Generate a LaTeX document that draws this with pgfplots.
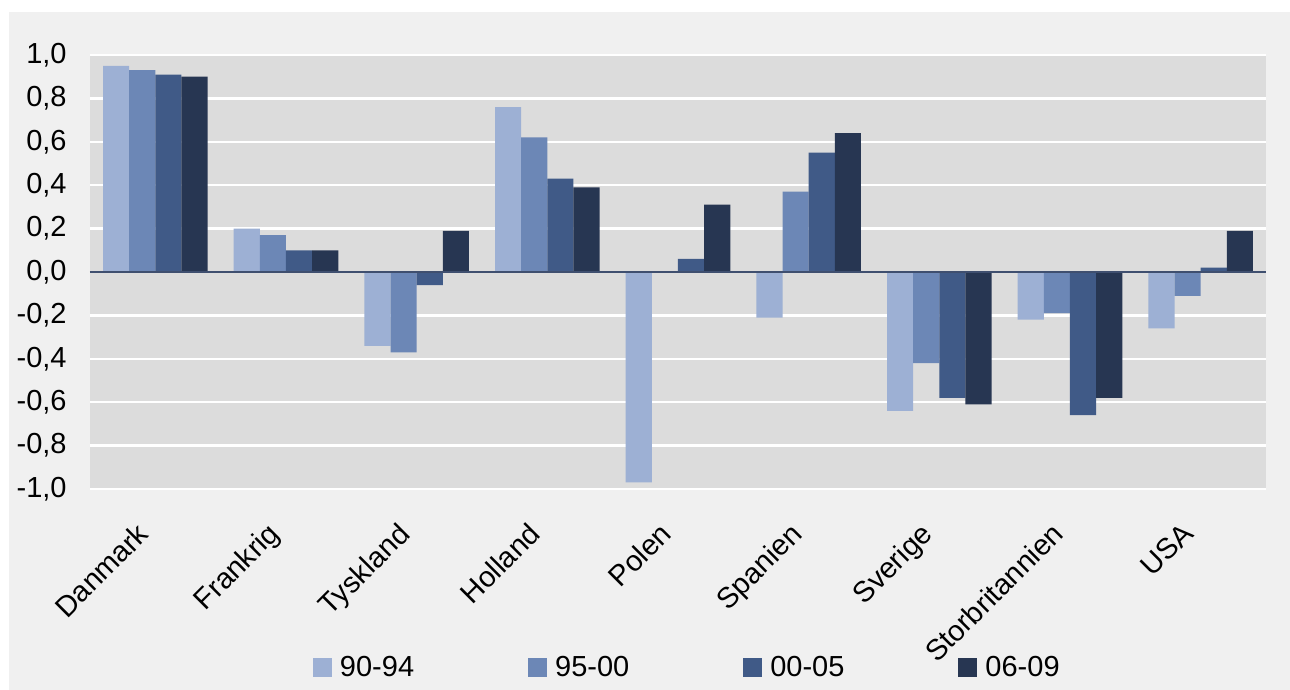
\documentclass[border=0pt]{standalone}
\usepackage{fontspec}
\setmainfont{Liberation Sans}
\usepackage{pgfplots}
\usepackage{pgfplotstable}
\pgfplotsset{compat=1.18}

\definecolor{outerbg}{HTML}{F0F0F0}
\definecolor{plotbg}{HTML}{DCDCDC}
\definecolor{cA}{HTML}{9DB0D4}
\definecolor{cB}{HTML}{6C87B6}
\definecolor{cC}{HTML}{405A87}
\definecolor{cD}{HTML}{273652}
\definecolor{zline}{HTML}{3F4F6F}

\newcommand\lf{\fontsize{14.5}{16.5}\selectfont}

% index 90-94 95-00 00-05 06-09
\pgfplotstableread{
x a b c d
0 0.95 0.93 0.91 0.90
1 0.20 0.17 0.10 0.10
2 -0.34 -0.37 -0.06 0.19
3 0.76 0.62 0.43 0.39
4 -0.97 0.00 0.06 0.31
5 -0.21 0.37 0.55 0.64
6 -0.64 -0.42 -0.58 -0.61
7 -0.22 -0.19 -0.66 -0.58
8 -0.26 -0.11 0.02 0.19
}\datatable

\begin{document}
\begin{tikzpicture}
\path[use as bounding box, fill=white] (-45pt,-100.5pt) rectangle (600pt,244.5pt);
\fill[outerbg] (-40.5pt,-100.5pt) rectangle (600pt,238.5pt);
\begin{axis}[
    scale only axis,
    width=588pt, height=217pt,
    xmin=-0.5, xmax=8.5,
    ymin=-1, ymax=1,
    enlargelimits=false,
    ybar=0pt,
    bar width=0.2,
    axis background/.style={fill=plotbg},
    axis line style={draw=none},
    major tick style={draw=none},
    ymajorgrids,
    major grid style={white, line width=1.2pt},
    xtick={0,...,8},
    xticklabels={Danmark,Frankrig,Tyskland,Holland,Polen,Spanien,Sverige,Storbritannien,USA},
    ytick={-1,-0.8,-0.6,-0.4,-0.2,0,0.2,0.4,0.6,0.8,1},
    tick label style={font=\lf},
    xticklabel style={xshift=-10pt, yshift=1.5pt, rotate=45, anchor=north east, inner sep=9.2pt},
    yticklabel style={anchor=east, inner sep=0pt, xshift=-11.5pt},
    legend columns=4,
    legend style={at={(0.1896,-0.4124)}, anchor=west, draw=none, fill=none,
        inner sep=0pt, outer sep=0pt, font=\lf,
        nodes={inner sep=0pt},
        /tikz/every odd column/.append style={column sep=4pt},
        /tikz/every even column/.append style={column sep=57pt}},
    legend image code/.code={\fill[#1] (0pt,-4.75pt) rectangle (9.5pt,4.75pt);},
    /pgf/number format/.cd, fixed, fixed zerofill, precision=1, use comma, assume math mode=true,
]
\addplot[fill=cA, draw=none, bar shift=-0.3] table[x=x, y=a] {\datatable};
\addplot[fill=cB, draw=none, bar shift=-0.1] table[x=x, y=b] {\datatable};
\addplot[fill=cC, draw=none, bar shift=0.1] table[x=x, y=c] {\datatable};
\addplot[fill=cD, draw=none, bar shift=0.3] table[x=x, y=d] {\datatable};
\legend{90-94,95-00,00-05,06-09}
\draw[zline, line width=0.8pt] (axis cs:-0.5,0) -- (axis cs:8.5,0);
\end{axis}
\end{tikzpicture}
\end{document}
